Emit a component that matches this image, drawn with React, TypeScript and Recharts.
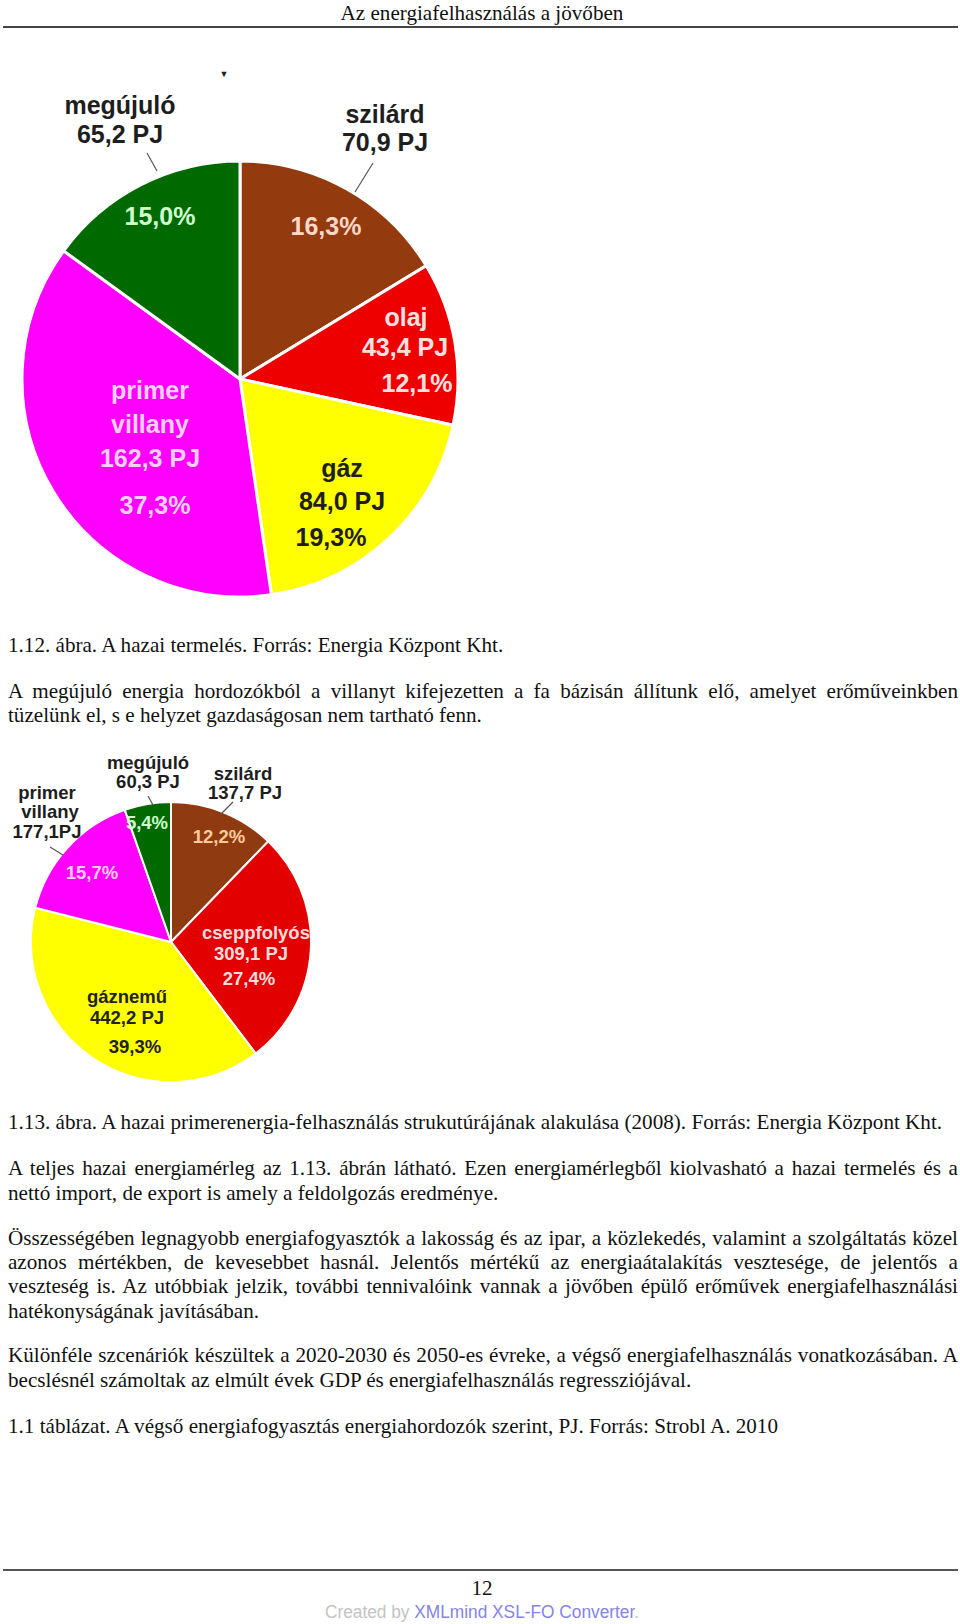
import React from 'react';
import { PieChart, Pie, Cell } from 'recharts';

// 1.12 ábra - hazai termelés
const prodNames = ['szilárd', 'olaj', 'gáz', 'primer villany', 'megújuló'];
const prodPJ = [70.9, 43.4, 84.0, 162.3, 65.2];
const prodShare = [16.3, 12.1, 19.3, 37.3, 15.0];

// 1.13 ábra - primerenergia-felhasználás (2008)
const useNames = ['szilárd', 'cseppfolyós', 'gáznemű', 'primer villany', 'megújuló'];
const usePJ = [137.7, 309.1, 442.2, 177.1, 60.3];
const useShare = [12.2, 27.4, 39.3, 15.7, 5.4];

const prodColors = ['#933a0e', '#ee0000', '#ffff00', '#ff00ff', '#006a00'];
const useColors = ['#8f3a10', '#e20000', '#ffff00', '#ff00ff', '#006a00'];

const prodData = prodNames.map((name, i) => ({ name, pj: prodPJ[i], share: prodShare[i] }));
const useData = useNames.map((name, i) => ({ name, pj: usePJ[i], share: useShare[i] }));

const SANS = '"Liberation Sans", Arial, sans-serif';
const SERIF = '"Liberation Serif", "Times New Roman", serif';

const fmt = (v: number) => v.toFixed(1).replace('.', ',');

type LabelLine = { kind: string; part?: number; dx: number; dy: number; color: string };
type LabelSpec = { lines: LabelLine[]; leader?: number[] };

const DARK = '#1e1e1e';

// label placement relative to pie centre
const prodLabels: LabelSpec[] = [
  {
    lines: [
      { kind: 'name', dx: 145, dy: -265, color: DARK },
      { kind: 'pj', dx: 145, dy: -237, color: DARK },
      { kind: 'pct', dx: 86, dy: -153, color: '#ffd8c8' },
    ],
    leader: [133, -216, 115, -187],
  },
  {
    lines: [
      { kind: 'name', dx: 166, dy: -62, color: '#ffe0e0' },
      { kind: 'pj', dx: 165, dy: -32, color: '#ffe0e0' },
      { kind: 'pct', dx: 177, dy: 4, color: '#ffe0e0' },
    ],
  },
  {
    lines: [
      { kind: 'name', dx: 102, dy: 89, color: DARK },
      { kind: 'pj', dx: 102, dy: 122, color: DARK },
      { kind: 'pct', dx: 91, dy: 158, color: DARK },
    ],
  },
  {
    lines: [
      { kind: 'name', part: 0, dx: -90, dy: 11, color: '#ffd0ff' },
      { kind: 'name', part: 1, dx: -90, dy: 45, color: '#ffd0ff' },
      { kind: 'pj', dx: -90, dy: 79, color: '#ffd0ff' },
      { kind: 'pct', dx: -85, dy: 126, color: '#ffd0ff' },
    ],
  },
  {
    lines: [
      { kind: 'name', dx: -120, dy: -274, color: DARK },
      { kind: 'pj', dx: -120, dy: -245, color: DARK },
      { kind: 'pct', dx: -80, dy: -163, color: '#d0ffd0' },
    ],
    leader: [-93, -226, -83, -208],
  },
];

const useLabels: LabelSpec[] = [
  {
    lines: [
      { kind: 'name', dx: 72, dy: -169, color: DARK },
      { kind: 'pj', dx: 74, dy: -150, color: DARK },
      { kind: 'pct', dx: 48, dy: -106, color: '#ffcc99' },
    ],
    leader: [62, -140, 50, -128],
  },
  {
    lines: [
      { kind: 'name', dx: 85, dy: -10, color: '#ffdcdc' },
      { kind: 'pj', dx: 80, dy: 11, color: '#ffdcdc' },
      { kind: 'pct', dx: 78, dy: 36, color: '#ffdcdc' },
    ],
  },
  {
    lines: [
      { kind: 'name', dx: -44, dy: 54, color: '#222' },
      { kind: 'pj', dx: -44, dy: 75, color: '#222' },
      { kind: 'pct', dx: -36, dy: 104, color: '#222' },
    ],
  },
  {
    lines: [
      { kind: 'name', part: 0, dx: -124, dy: -150, color: DARK },
      { kind: 'name', part: 1, dx: -121, dy: -131, color: DARK },
      { kind: 'pjTight', dx: -124, dy: -111, color: DARK },
      { kind: 'pct', dx: -79, dy: -70, color: '#ffccff' },
    ],
    leader: [-121, -95, -108, -87],
  },
  {
    lines: [
      { kind: 'name', dx: -23, dy: -180, color: DARK },
      { kind: 'pj', dx: -23, dy: -161, color: DARK },
      { kind: 'pct', dx: -24, dy: -120, color: '#ccffcc' },
    ],
    leader: [-23, -146, -18, -137],
  },
];

const lineText = (l: LabelLine, d: { name: string; pj: number; share: number }) => {
  if (l.kind === 'name') return l.part === undefined ? d.name : d.name.split(' ')[l.part];
  if (l.kind === 'pj') return `${fmt(d.pj)} PJ`;
  if (l.kind === 'pjTight') return `${fmt(d.pj)}PJ`;
  return `${fmt(d.share)}%`;
};

function makeLabel(specs: LabelSpec[], data: any[], fontSize: number) {
  return (props: any) => {
    const { cx, cy, index } = props;
    const spec = specs[index];
    const d = data[index];
    return (
      <g>
        {spec.leader && (
          <line
            x1={cx + spec.leader[0]}
            y1={cy + spec.leader[1]}
            x2={cx + spec.leader[2]}
            y2={cy + spec.leader[3]}
            stroke="#555"
            strokeWidth={1.2}
          />
        )}
        {spec.lines.map((l, i) => (
          <text
            key={i}
            x={cx + l.dx}
            y={cy + l.dy}
            textAnchor="middle"
            dominantBaseline="central"
            fontFamily={SANS}
            fontWeight="bold"
            fontSize={fontSize}
            fill={l.color}
          >
            {lineText(l, d)}
          </text>
        ))}
      </g>
    );
  };
}

const SCALE = 0.96;

function TextLine({ y, text, justify }: { y: number; text: string; justify?: boolean }) {
  return (
    <div
      style={{
        position: 'absolute',
        left: 8,
        top: y - 12.5,
        width: 950 / SCALE,
        height: 25,
        lineHeight: '25px',
        fontFamily: SERIF,
        fontSize: 22,
        color: '#111',
        textAlign: justify ? 'justify' : 'left',
        textAlignLast: justify ? 'justify' : 'auto',
        transform: `scaleX(${SCALE})`,
        transformOrigin: 'left top',
        whiteSpace: justify ? 'normal' : 'nowrap',
      }}
    >
      {text}
    </div>
  );
}

function CenterLine({ y, children, size, family }: { y: number; children: React.ReactNode; size: number; family: string }) {
  return (
    <div
      style={{
        position: 'absolute',
        left: 0,
        top: y - 12.5,
        width: 964,
        height: 25,
        lineHeight: '25px',
        textAlign: 'center',
        fontFamily: family,
        fontSize: size,
        color: '#111',
        transform: `scaleX(${SCALE})`,
        transformOrigin: '482px 0',
        whiteSpace: 'nowrap',
      }}
    >
      {children}
    </div>
  );
}

export default function App() {
  return (
    <div style={{ position: 'absolute', left: 0, top: 0, width: 960, height: 1624, background: '#fff', overflow: 'hidden' }}>
      <CenterLine y={12} size={22} family={SERIF}>Az energiafelhasználás a jövőben</CenterLine>
      <div style={{ position: 'absolute', left: 3, top: 26, width: 955, height: 2, background: '#444' }} />

      <div style={{ position: 'absolute', left: 0, top: 0 }}>
        <PieChart width={480} height={620} margin={{ top: 0, right: 0, bottom: 0, left: 0 }}>
          <Pie
            data={prodData}
            dataKey="share"
            cx={240}
            cy={379}
            outerRadius={218}
            startAngle={90}
            endAngle={-270}
            stroke="#fff"
            strokeWidth={3}
            isAnimationActive={false}
            labelLine={false}
            label={makeLabel(prodLabels, prodData, 25)}
          >
            {prodData.map((d, i) => (
              <Cell key={d.name} fill={prodColors[i]} />
            ))}
          </Pie>
          <text x={224} y={77} textAnchor="middle" fontSize={9} fill="#222">▼</text>
        </PieChart>
      </div>

      <TextLine y={644} text="1.12. ábra. A hazai termelés. Forrás: Energia Központ Kht." />
      <TextLine y={690} justify text="A megújuló energia hordozókból a villanyt kifejezetten a fa bázisán állítunk elő, amelyet erőműveinkben" />
      <TextLine y={714.5} text="tüzelünk el, s e helyzet gazdaságosan nem tartható fenn." />

      <div style={{ position: 'absolute', left: 0, top: 740 }}>
        <PieChart width={340} height={360} margin={{ top: 0, right: 0, bottom: 0, left: 0 }}>
          <Pie
            data={useData}
            dataKey="pj"
            cx={171}
            cy={202}
            outerRadius={140}
            startAngle={90}
            endAngle={-270}
            stroke="#fff"
            strokeWidth={2}
            isAnimationActive={false}
            labelLine={false}
            label={makeLabel(useLabels, useData, 18.5)}
          >
            {useData.map((d, i) => (
              <Cell key={d.name} fill={useColors[i]} />
            ))}
          </Pie>
        </PieChart>
      </div>

      <TextLine y={1121.5} text="1.13. ábra. A hazai primerenergia-felhasználás strukutúrájának alakulása (2008). Forrás: Energia Központ Kht." />
      <TextLine y={1167} justify text="A teljes hazai energiamérleg az 1.13. ábrán látható. Ezen energiamérlegből kiolvasható a hazai termelés és a" />
      <TextLine y={1192} text="nettó import, de export is amely a feldolgozás eredménye." />
      <TextLine y={1237.5} justify text="Összességében legnagyobb energiafogyasztók a lakosság és az ipar, a közlekedés, valamint a szolgáltatás közel" />
      <TextLine y={1261} justify text="azonos mértékben, de kevesebbet hasnál. Jelentős mértékű az energiaátalakítás vesztesége, de jelentős a" />
      <TextLine y={1285} justify text="veszteség is. Az utóbbiak jelzik, további tennivalóink vannak a jövőben épülő erőművek energiafelhasználási" />
      <TextLine y={1310} text="hatékonyságának javításában." />
      <TextLine y={1354.5} justify text="Különféle szcenáriók készültek a 2020-2030 és 2050-es évreke, a végső energiafelhasználás vonatkozásában. A" />
      <TextLine y={1379} text="becslésnél számoltak az elmúlt évek GDP és energiafelhasználás regressziójával." />
      <TextLine y={1425} text="1.1 táblázat. A végső energiafogyasztás energiahordozók szerint, PJ. Forrás: Strobl A. 2010" />

      <div style={{ position: 'absolute', left: 3, top: 1569, width: 955, height: 2, background: '#555' }} />
      <CenterLine y={1587} size={22} family={SERIF}>12</CenterLine>
      <CenterLine y={1612} size={18} family={SANS}>
        <span style={{ color: '#c4c4c4' }}>Created by </span>
        <span style={{ color: '#8484e6' }}>XMLmind XSL-FO Converter</span>
        <span style={{ color: '#c4c4c4' }}>.</span>
      </CenterLine>
    </div>
  );
}
